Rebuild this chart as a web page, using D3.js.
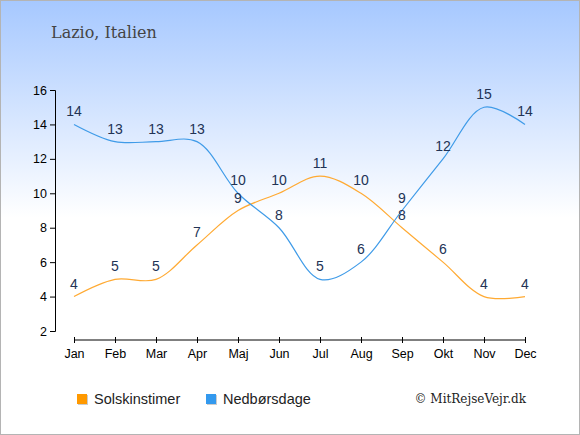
<!DOCTYPE html>
<html>
<head>
<meta charset="utf-8">
<script src="https://cdn.jsdelivr.net/npm/d3@7"></script>
<style>
  body { margin: 0; }
  svg { display: block; }
</style>
</head>
<body>
<div id="chart"></div>
<script>
// --------------------------- data ---------------------------
const months = ["Jan", "Feb", "Mar", "Apr", "Maj", "Jun", "Jul", "Aug", "Sep", "Okt", "Nov", "Dec"];
const sunHours = [4, 5, 5, 7, 9, 10, 11, 10, 8, 6, 4, 4];
const rainDays = [14, 13, 13, 13, 10, 8, 5, 6, 9, 12, 15, 14];
const yTicks = [2, 4, 6, 8, 10, 12, 14, 16];

const width = 580;
const height = 435;

const svg = d3.select("#chart")
  .append("svg")
  .attr("width", width)
  .attr("height", height);

// --------------------------- backdrop ---------------------------
const grad = svg.append("defs").append("linearGradient")
  .attr("id", "bg")
  .attr("x1", 0).attr("y1", 0).attr("x2", 0).attr("y2", 1);
grad.append("stop").attr("offset", "0%").attr("stop-color", "#a6c8ff");
grad.append("stop").attr("offset", "50%").attr("stop-color", "#ffffff");
grad.append("stop").attr("offset", "100%").attr("stop-color", "#ffffff");

svg.append("rect")
  .attr("x", 0.5).attr("y", 0.5)
  .attr("width", width - 1).attr("height", height - 1)
  .attr("fill", "url(#bg)")
  .attr("stroke", "#b4b4b4");

svg.append("text")
  .attr("x", 51).attr("y", 38)
  .attr("font-family", "DejaVu Serif, serif")
  .attr("font-size", 16)
  .attr("fill", "#444")
  .text("Lazio, Italien");

// --------------------------- scales & axes ---------------------------
const x = d3.scalePoint().domain(months).range([74, 525]);
const y = d3.scaleLinear().domain([2, 16]).range([331, 90]);

const yAxis = svg.append("g")
  .attr("transform", "translate(55,0)")
  .call(d3.axisLeft(y).tickValues(yTicks).tickSize(5).tickPadding(3));

const xAxis = svg.append("g")
  .attr("transform", "translate(0,340)")
  .call(d3.axisBottom(x).tickSize(3).tickPadding(6));

[yAxis, xAxis].forEach(g => {
  g.select(".domain").attr("stroke", "#000");
  g.selectAll("text")
    .attr("font-family", "Liberation Sans, Arial, sans-serif")
    .attr("font-size", 12.5)
    .attr("fill", "#000");
});
xAxis.select(".domain").attr("d", `M${x("Jan")},0H${x("Dec")}`);
xAxis.selectAll(".tick line").attr("y1", -3);

// --------------------------- lines ---------------------------
const line = d3.line()
  .x((d, i) => x(months[i]))
  .y(d => y(d))
  .curve(d3.curveCatmullRom.alpha(0.5));

const series = [
  { name: "Solskinstimer", values: sunHours, color: "#ffaa33", swatch: "#ff9900" },
  { name: "Nedbørsdage", values: rainDays, color: "#3f9be8", swatch: "#3399ee" }
];

series.forEach(s => {
  svg.append("path")
    .attr("d", line(s.values))
    .attr("fill", "none")
    .attr("stroke", s.color)
    .attr("stroke-width", 1.2);
});

series.forEach(s => {
  svg.append("g")
    .selectAll("text")
    .data(s.values)
    .join("text")
    .attr("x", (d, i) => x(months[i]))
    .attr("y", d => y(d) - 8)
    .attr("text-anchor", "middle")
    .attr("font-family", "Liberation Sans, Arial, sans-serif")
    .attr("font-size", 14)
    .attr("fill", "#223355")
    .text(d => d);
});

// --------------------------- legend ---------------------------
const legendX = [77, 206];
series.forEach((s, i) => {
  const g = svg.append("g").attr("transform", `translate(${legendX[i]},394)`);
  g.append("rect").attr("x", 1).attr("y", 1).attr("width", 10).attr("height", 10).attr("fill", "#cccccc");
  g.append("rect").attr("width", 10).attr("height", 10).attr("fill", s.swatch);
  g.append("text")
    .attr("x", 17).attr("y", 10)
    .attr("font-family", "Liberation Sans, Arial, sans-serif")
    .attr("font-size", 14.5)
    .attr("fill", "#222")
    .text(s.name);
});

svg.append("text")
  .attr("x", 526).attr("y", 403)
  .attr("text-anchor", "end")
  .attr("font-family", "DejaVu Serif, serif")
  .attr("font-size", 12)
  .attr("fill", "#222")
  .text("© MitRejseVejr.dk");
</script>
</body>
</html>
